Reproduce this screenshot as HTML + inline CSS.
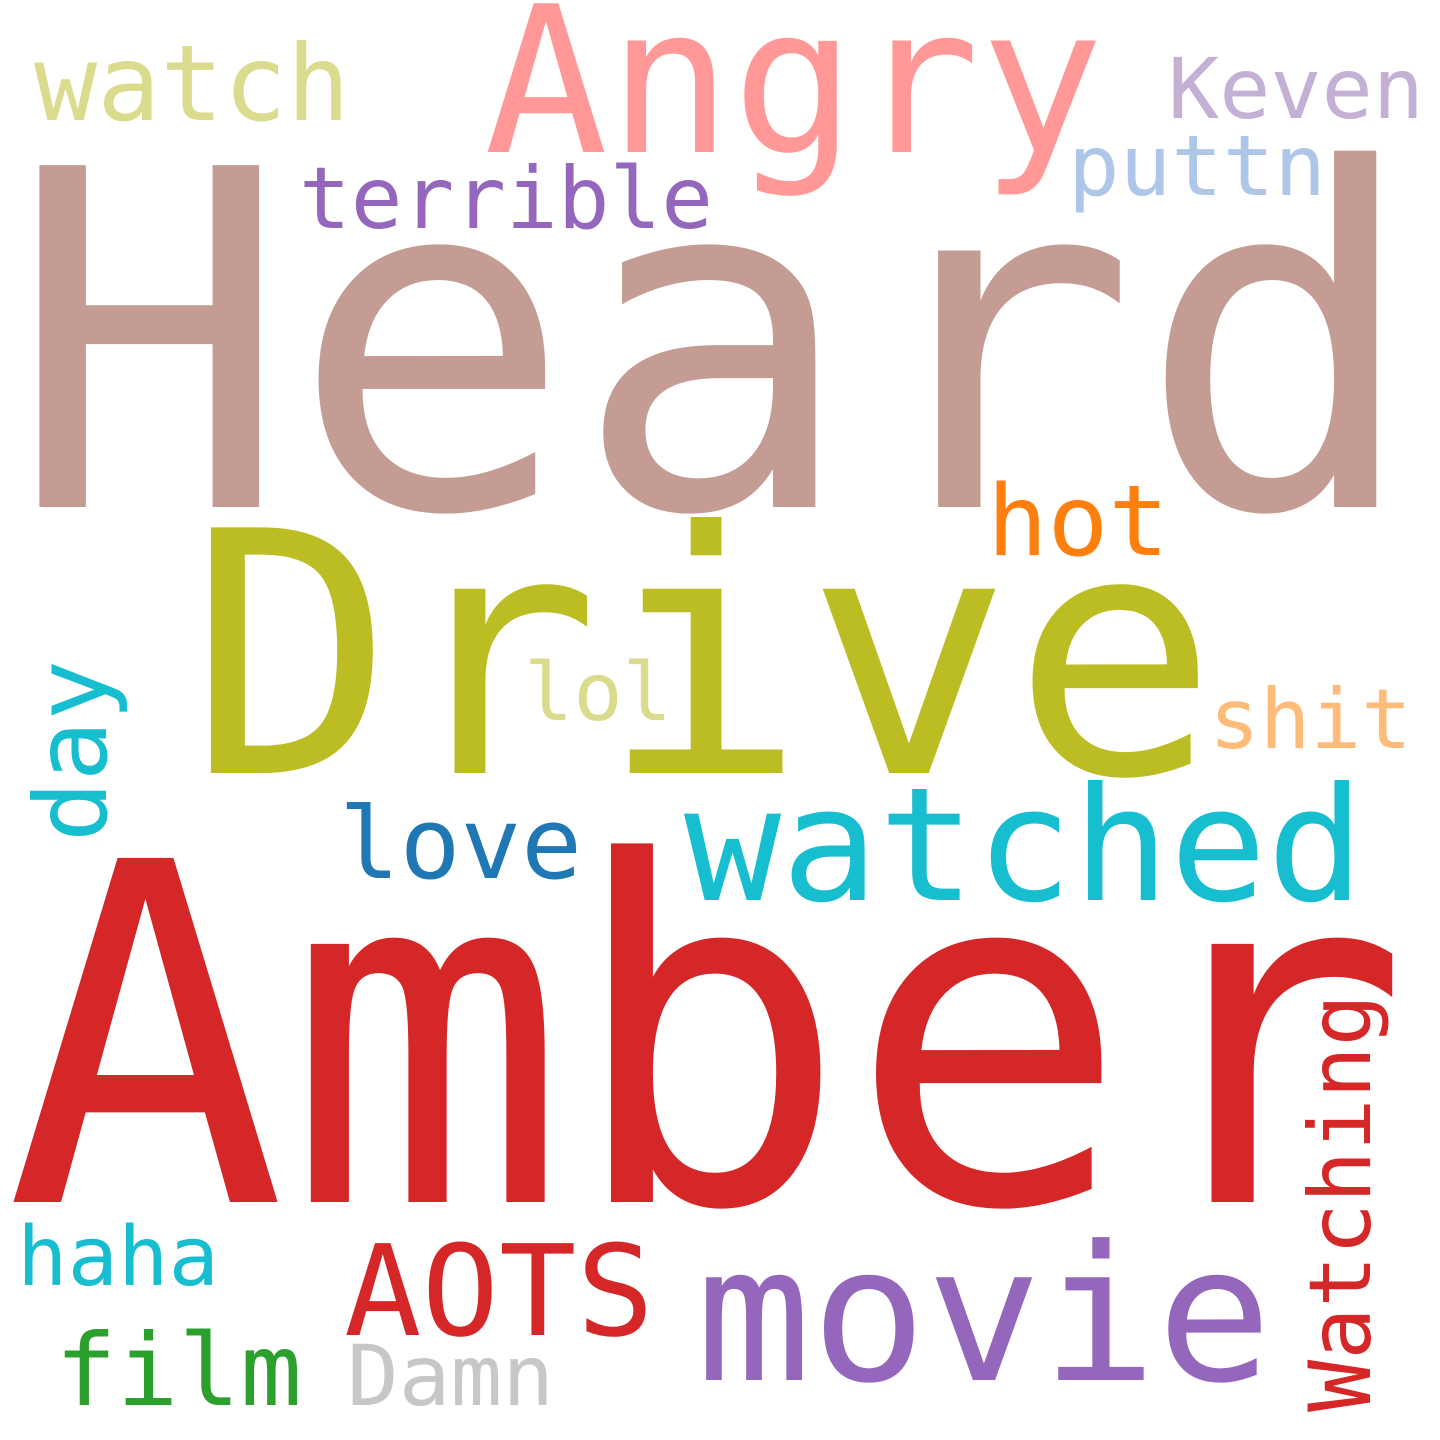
<!DOCTYPE html>
<html>
<head>
<meta charset="utf-8">
<style>
  html,body{margin:0;padding:0;background:#fff;}
  svg{display:block;}
  text{font-family:"DejaVu Sans Mono","Liberation Mono",monospace;}
</style>
</head>
<body>
<svg width="1440" height="1440" viewBox="0 0 1440 1440">
  <rect width="1440" height="1440" fill="#fff"/>
  <text x="8" y="507" font-size="469" fill="#c49c94" textLength="1412" lengthAdjust="spacingAndGlyphs">Heard</text>
  <text x="5" y="1202" font-size="472" fill="#d62728" textLength="1405" lengthAdjust="spacingAndGlyphs">Amber</text>
  <text x="188" y="773" font-size="337" fill="#bcbd22" textLength="1030" lengthAdjust="spacingAndGlyphs">Drive</text>
  <text x="484" y="152" font-size="204" fill="#ff9896" textLength="620" lengthAdjust="spacingAndGlyphs">Angry</text>
  <text x="34" y="120" font-size="105" fill="#dbdb8d" textLength="316" lengthAdjust="spacingAndGlyphs">watch</text>
  <text x="1168" y="118" font-size="84" fill="#c5b0d5" textLength="256" lengthAdjust="spacingAndGlyphs">Keven</text>
  <text x="1068" y="195" font-size="84" fill="#aec7e8" textLength="258" lengthAdjust="spacingAndGlyphs">puttn</text>
  <text x="299" y="228" font-size="86" fill="#9467bd" textLength="414" lengthAdjust="spacingAndGlyphs">terrible</text>
  <text x="987" y="555" font-size="98" fill="#ff7f0e" textLength="182" lengthAdjust="spacingAndGlyphs">hot</text>
  <text x="524" y="720" font-size="80" fill="#dbdb8d" textLength="148" lengthAdjust="spacingAndGlyphs">lol</text>
  <text x="1209" y="748" font-size="83" fill="#ffbb78" textLength="203" lengthAdjust="spacingAndGlyphs">shit</text>
  <text x="339" y="878" font-size="99" fill="#1f77b4" textLength="243" lengthAdjust="spacingAndGlyphs">love</text>
  <text x="684" y="900" font-size="158" fill="#17becf" textLength="680" lengthAdjust="spacingAndGlyphs">watched</text>
  <text transform="translate(106,842) rotate(-90)" x="0" y="0" font-size="100" fill="#17becf" textLength="182" lengthAdjust="spacingAndGlyphs">day</text>
  <text transform="translate(1370,1412) rotate(-90)" x="0" y="0" font-size="86" fill="#d62728" textLength="418" lengthAdjust="spacingAndGlyphs">Watching</text>
  <text x="17" y="1285" font-size="82" fill="#17becf" textLength="202" lengthAdjust="spacingAndGlyphs">haha</text>
  <text x="344" y="1335" font-size="126" fill="#d62728" textLength="310" lengthAdjust="spacingAndGlyphs">AOTS</text>
  <text x="696" y="1380" font-size="188" fill="#9467bd" textLength="576" lengthAdjust="spacingAndGlyphs">movie</text>
  <text x="55" y="1405" font-size="100" fill="#2ca02c" textLength="247" lengthAdjust="spacingAndGlyphs">film</text>
  <text x="347" y="1405" font-size="84" fill="#c7c7c7" textLength="207" lengthAdjust="spacingAndGlyphs">Damn</text>
</svg>
</body>
</html>
